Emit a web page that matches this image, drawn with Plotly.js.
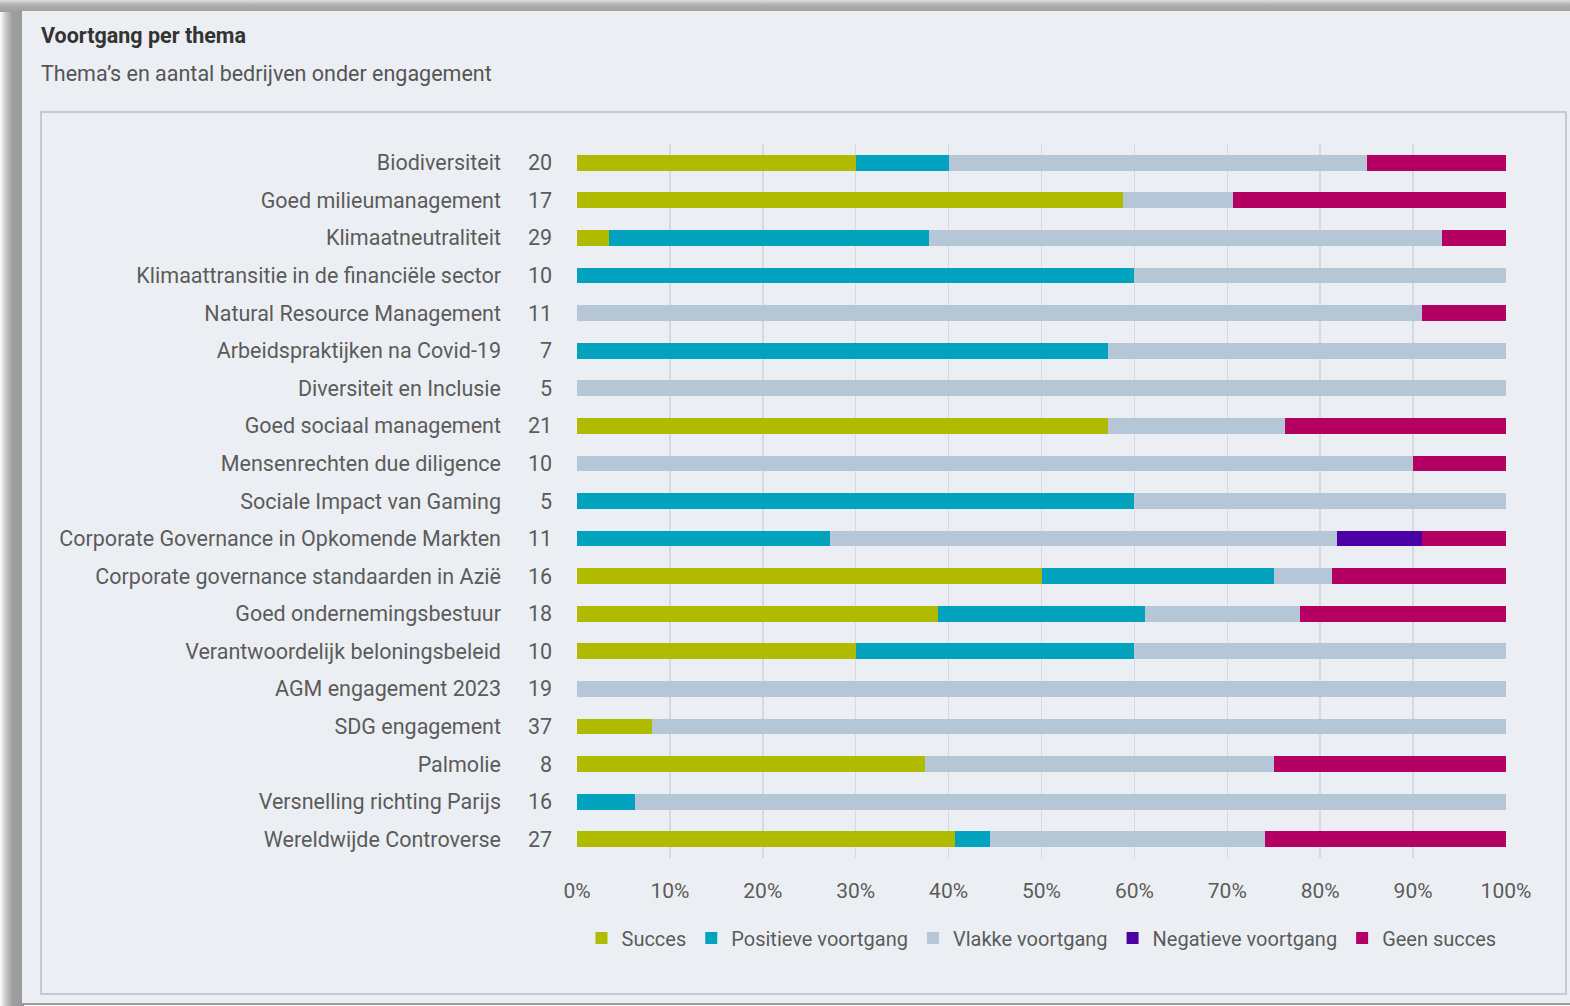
<!DOCTYPE html>
<html>
<head>
<meta charset="utf-8">
<script src="https://cdn.plot.ly/plotly-3.0.1.min.js"></script>
<style>
  html, body { margin: 0; padding: 0; width: 1570px; height: 1006px; overflow: hidden; background: #ffffff; font-family: Roboto, sans-serif; }
  #shadowLeft { position: absolute; left: 0; top: 0; width: 24px; height: 1006px;
    background: linear-gradient(to right, #ffffff 0px, #d0d0d0 5px, #9e9e9e 12px, #9a9a9a 24px); }
  #shadowTop { position: absolute; left: 0; top: 0; width: 1570px; height: 12px;
    background: linear-gradient(to bottom, #dcdcdc 0px, #b0b0b0 5px, #9c9c9c 12px); }
  #panel { position: absolute; left: 22px; top: 11px; width: 1548px; height: 992px; background: #ebeff3;
    border-bottom: 2px solid #9c9c9c; }
  #box { position: absolute; left: 40px; top: 111px; width: 1523px; height: 880px; border: 2px solid #c6c9cd; box-sizing: content-box; }
  #chart { position: absolute; left: 0; top: 0; width: 1570px; height: 1006px; }
</style>
</head>
<body>
<div id="shadowLeft"></div>
<div id="shadowTop"></div>
<div id="panel"></div>
<div id="box"></div>
<div id="chart"></div>
<script>
// ---- Data ----
const themes = [
  "Biodiversiteit",
  "Goed milieumanagement",
  "Klimaatneutraliteit",
  "Klimaattransitie in de financiële sector",
  "Natural Resource Management",
  "Arbeidspraktijken na Covid-19",
  "Diversiteit en Inclusie",
  "Goed sociaal management",
  "Mensenrechten due diligence",
  "Sociale Impact van Gaming",
  "Corporate Governance in Opkomende Markten",
  "Corporate governance standaarden in Azië",
  "Goed ondernemingsbestuur",
  "Verantwoordelijk beloningsbeleid",
  "AGM engagement 2023",
  "SDG engagement",
  "Palmolie",
  "Versnelling richting Parijs",
  "Wereldwijde Controverse"
];
const counts   = [20, 17, 29, 10, 11, 7, 5, 21, 10, 5, 11, 16, 18, 10, 19, 37, 8, 16, 27];
const succes   = [6, 10, 1, 0, 0, 0, 0, 12, 0, 0, 0, 8, 7, 3, 0, 3, 3, 0, 11];
const positief = [2, 0, 10, 6, 0, 4, 0, 0, 0, 3, 3, 4, 4, 3, 0, 0, 0, 1, 1];
const vlak     = [9, 2, 16, 4, 10, 3, 5, 4, 9, 2, 6, 1, 3, 4, 19, 34, 3, 15, 8];
const negatief = [0, 0, 0, 0, 0, 0, 0, 0, 0, 0, 1, 0, 0, 0, 0, 0, 0, 0, 0];
const geen     = [3, 5, 2, 0, 1, 0, 0, 5, 1, 0, 1, 3, 4, 0, 0, 0, 2, 0, 7];
const seriesNames = ["Succes", "Positieve voortgang", "Vlakke voortgang", "Negatieve voortgang", "Geen succes"];
const xTicks = [0, 10, 20, 30, 40, 50, 60, 70, 80, 90, 100];

// ---- Styling ----
const colors = ["#b0bb00", "#00a2be", "#b5c6d6", "#4a00a4", "#b30062"];
const FONT = "Roboto, 'Noto Sans', sans-serif";
const seriesValues = [succes, positief, vlak, negatief, geen];

const traces = seriesValues.map((vals, i) => ({
  type: "bar",
  orientation: "h",
  name: seriesNames[i],
  y: themes,
  x: vals,
  marker: { color: colors[i], line: { width: 0 } },
  hoverinfo: "none"
}));

const W = 1570, H = 1006;
const L = 577, R = 64, T = 144, B = 148;
const plotW = W - L - R, plotH = H - T - B;

const annotations = themes.map((t, i) => ({
  xref: "paper", yref: "y",
  x: (554 - L) / plotW, y: t,
  xanchor: "right", yanchor: "middle",
  text: String(counts[i]),
  showarrow: false,
  font: { family: FONT, size: 21.5, color: "#5b5b5b" }
}));
annotations.push({
  xref: "paper", yref: "paper",
  x: (39 - L) / plotW, y: (H - B - 74) / plotH,
  xanchor: "left", yanchor: "middle",
  text: "Thema’s en aantal bedrijven onder engagement",
  showarrow: false,
  font: { family: FONT, size: 21.5, color: "#555555" }
});

const layout = {
  width: W, height: H,
  margin: { l: L, r: R, t: T, b: B, pad: 0 },
  paper_bgcolor: "rgba(0,0,0,0)",
  plot_bgcolor: "rgba(0,0,0,0)",
  barmode: "stack",
  barnorm: "percent",
  bargap: 0.58,
  showlegend: true,
  title: {
    text: "<b>Voortgang per thema</b>",
    xref: "container", yref: "container",
    x: 41 / W, xanchor: "left",
    y: 1 - 35 / H, yanchor: "middle",
    font: { family: FONT, size: 21.5, color: "#333333" }
  },
  xaxis: {
    range: [0, 100],
    tickvals: xTicks,
    ticktext: xTicks.map(v => v + "%"),
    showgrid: true,
    gridcolor: "#d6d9dd",
    gridwidth: 1.5,
    zeroline: false,
    showline: false,
    ticks: "",
    ticklabelstandoff: 18,
    tickfont: { family: FONT, size: 21, color: "#5b5b5b" },
    fixedrange: true
  },
  yaxis: {
    type: "category",
    autorange: "reversed",
    showgrid: false,
    zeroline: false,
    showline: false,
    ticks: "",
    ticklabelstandoff: 75,
    tickfont: { family: FONT, size: 21.5, color: "#5b5b5b" },
    fixedrange: true
  },
  legend: {
    orientation: "h",
    x: 0.5, xanchor: "center",
    y: -(938 - (H - B)) / plotH, yanchor: "middle",
    traceorder: "normal",
    bgcolor: "rgba(0,0,0,0)",
    itemwidth: 30,
    font: { family: FONT, size: 20, color: "#5b5b5b" }
  },
  annotations: annotations
};

Plotly.newPlot("chart", traces, layout, { displayModeBar: false, staticPlot: true });
</script>
</body>
</html>
